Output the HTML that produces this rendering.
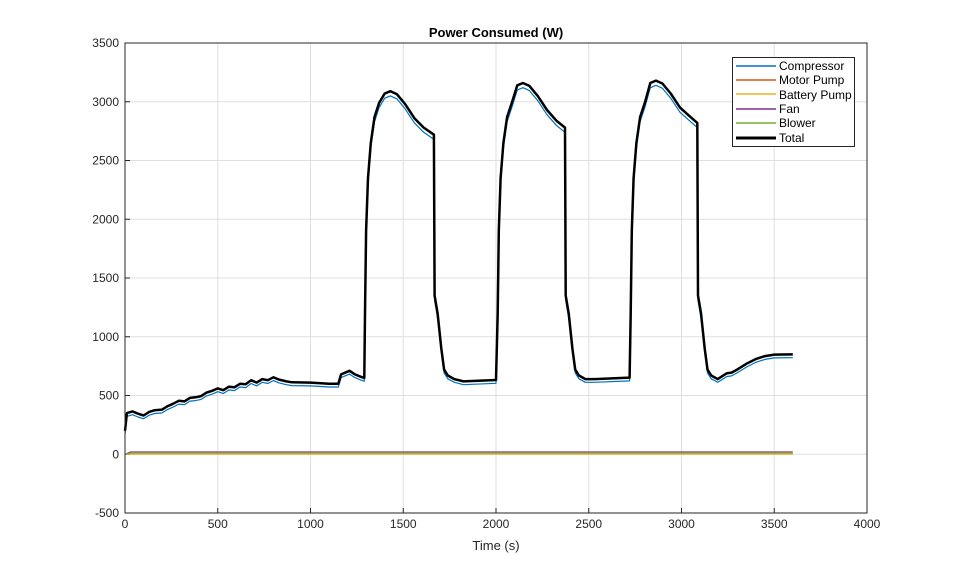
<!DOCTYPE html>
<html><head><style>body{margin:0;background:#fff}svg{display:block;font-family:"Liberation Sans",Arial,sans-serif}</style></head>
<body>
<svg id="s" width="959" height="577" xmlns="http://www.w3.org/2000/svg">
<rect x="125" y="43" width="742" height="470" fill="#fff" stroke="#262626" stroke-width="1"/>
<g id="grid" stroke="#dfdfdf" stroke-width="1"></g>
<g id="ticks" font-size="12" fill="#262626"></g>
<g id="series" fill="none"></g>
<rect x="125" y="43" width="742" height="470" fill="none" stroke="#262626" stroke-width="1"/>
<text x="496" y="37" text-anchor="middle" font-size="13" font-weight="bold" fill="#000">Power Consumed (W)</text>
<text x="496" y="550" text-anchor="middle" font-size="13" fill="#262626">Time (s)</text>
<g font-size="12" fill="#000">
<rect x="732.5" y="57.5" width="122" height="89" fill="#fff" stroke="#262626"/>
<line x1="736" x2="776" y1="66" y2="66" stroke="#0072bd" stroke-width="1.5"/><text x="779" y="70">Compressor</text>
<line x1="736" x2="776" y1="80" y2="80" stroke="#d95319" stroke-width="1.5"/><text x="779" y="84">Motor Pump</text>
<line x1="736" x2="776" y1="94" y2="94" stroke="#edb120" stroke-width="1.5"/><text x="779" y="99">Battery Pump</text>
<line x1="736" x2="776" y1="109" y2="109" stroke="#7e2f8e" stroke-width="1.5"/><text x="779" y="113">Fan</text>
<line x1="736" x2="776" y1="123" y2="123" stroke="#77ac30" stroke-width="1.5"/><text x="779" y="127">Blower</text>
<line x1="736" x2="776" y1="138" y2="138" stroke="#000" stroke-width="3"/><text x="779" y="142">Total</text>
</g>
</svg>
<script>
const X=t=>125+t*0.1855,Y=w=>454.25-w*0.1175;
let g='',tk='';
for(let t=0;t<=4000;t+=500){const x=X(t);g+=`<line x1="${x}" x2="${x}" y1="43" y2="513"/>`;tk+=`<text x="${x}" y="528" text-anchor="middle">${t}</text><line x1="${x}" x2="${x}" y1="513" y2="508" stroke="#262626"/>`;}
for(let w=-500;w<=3500;w+=500){const y=Y(w);g+=`<line x1="125" x2="867" y1="${y}" y2="${y}"/>`;tk+=`<text x="119" y="${y+4}" text-anchor="end">${w}</text><line x1="125" x2="130" y1="${y}" y2="${y}" stroke="#262626"/>`;}
document.getElementById('grid').innerHTML=g;document.getElementById('ticks').innerHTML=tk;
function cycle(t0,t1,peak,end,after){ // rise at t0, drop at t1
 const d=t1-t0;return [[t0,640],[t0+4,1200],[t0+10,1900],[t0+20,2350],[t0+35,2650],[t0+55,2870],[t0+80,2990],[t0+110,peak-20],[t0+140,peak],[t0+175,peak-25],[t0+220,peak-110],[t0+270,peak-230],[t0+320,end+60],[t1,end],[t1+4,1350],[t1+20,1200],[t1+40,900],[t1+55,720],[t1+75,670],[t1+110,640],[t1+160,after]];
}
const P=[[0,200],[10,350],[40,365],[70,345],[100,330],[130,360],[160,375],[200,380],[230,410],[260,430],[290,455],[320,450],[350,480],[380,485],[410,495],[440,525],[470,540],[500,560],[530,545],[560,575],[590,570],[620,600],[650,595],[680,630],[710,610],[740,640],[770,630],[800,655],[830,635],[870,620],[900,612],[1000,610],[1100,600],[1150,600],[1165,680],[1210,710],[1240,680],[1270,660],[1290,650],
...cycle(1290,1665,3090,2720,620).slice(1),[2000,632],
...cycle(2005,2372,3160,2780,640).slice(1),[2720,652],
...cycle(2722,3085,3180,2820,690).slice(1),[3270,695],[3300,720],[3350,770],[3400,810],[3450,835],[3500,848],[3600,850]];
const path=(f,c,w)=>`<path d="M${P.map(p=>X(p[0]).toFixed(1)+','+Y(f(p)).toFixed(1)).join('L')}" stroke="${c}" stroke-width="${w}" stroke-linejoin="round"/>`;
const flat=(v,c)=>`<path d="M${X(0)},${Y(0)}L${X(30)},${Y(v)}L${X(3600)},${Y(v)}" stroke="${c}" stroke-width="1"/>`;
let s=flat(2,'#d95319')+flat(0,'#edb120')+flat(20,'#7e2f8e')+flat(12,'#77ac30');
s+=path(p=>p[1]-(p[1]>1000?40:28),'#0072bd',1.2);
s+=path(p=>p[1],'#000',2.5);
document.getElementById('series').innerHTML=s;
</script>
</body></html>
